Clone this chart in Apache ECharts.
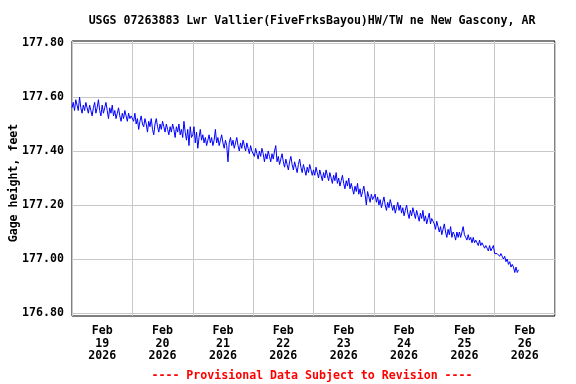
<!DOCTYPE html>
<html>
<head>
<meta charset="utf-8">
<script src="https://cdn.jsdelivr.net/npm/echarts@6/dist/echarts.min.js"></script>
<style>html,body{margin:0;padding:0;background:#fff}#c{width:576px;height:384px}</style>
</head>
<body>
<div id="c"></div>
<script>
// Day labels (each label sits in the middle of its day band)
var categories = ['Feb\n19\n2026','Feb\n20\n2026','Feb\n21\n2026','Feb\n22\n2026','Feb\n23\n2026','Feb\n24\n2026','Feb\n25\n2026','Feb\n26\n2026'];
var yTicks = [176.8, 177.0, 177.2, 177.4, 177.6, 177.8];
var stepHours = 0.5; // readings every 30 minutes starting Feb 19 00:00
// Gage height, feet, per day
var feb19 = [177.56,177.58,177.55,177.59,177.57,177.55,177.60,177.56,177.54,177.57,
177.55,177.58,177.56,177.54,177.57,177.55,177.53,177.56,177.58,177.54,
177.56,177.59,177.55,177.53,177.57,177.54,177.56,177.58,177.55,177.52,
177.56,177.54,177.57,177.53,177.55,177.52,177.54,177.56,177.53,177.51,
177.54,177.52,177.55,177.53,177.51,177.54,177.52,177.53];
var feb20 = [177.53,177.51,177.54,177.50,177.52,177.48,177.51,177.53,177.50,177.49,
177.52,177.50,177.47,177.51,177.49,177.52,177.48,177.46,177.50,177.52,
177.49,177.47,177.50,177.48,177.51,177.49,177.47,177.50,177.48,177.46,
177.49,177.47,177.50,177.48,177.45,177.49,177.47,177.50,177.46,177.48,
177.45,177.51,177.47,177.44,177.48,177.42,177.49,177.45];
var feb21 = [177.46,177.49,177.43,177.47,177.41,177.45,177.48,177.44,177.46,177.43,
177.45,177.42,177.44,177.46,177.43,177.45,177.42,177.44,177.48,177.43,
177.45,177.42,177.44,177.46,177.43,177.41,177.44,177.42,177.36,177.43,
177.45,177.42,177.44,177.41,177.43,177.45,177.42,177.40,177.43,177.41,
177.44,177.42,177.40,177.43,177.41,177.39,177.42,177.40];
var feb22 = [177.40,177.38,177.41,177.39,177.37,177.40,177.38,177.41,177.39,177.36,
177.39,177.37,177.40,177.38,177.36,177.39,177.37,177.40,177.42,177.36,
177.38,177.35,177.37,177.39,177.36,177.34,177.37,177.35,177.33,177.36,
177.38,177.35,177.33,177.36,177.34,177.32,177.35,177.37,177.34,177.32,
177.35,177.33,177.31,177.34,177.32,177.35,177.33,177.31];
var feb23 = [177.33,177.31,177.34,177.32,177.30,177.33,177.31,177.29,177.32,177.30,
177.33,177.31,177.29,177.32,177.30,177.28,177.31,177.29,177.32,177.28,
177.30,177.27,177.29,177.31,177.28,177.26,177.29,177.27,177.30,177.26,
177.28,177.26,177.24,177.27,177.25,177.28,177.24,177.26,177.23,177.25,
177.27,177.24,177.20,177.25,177.23,177.21,177.24,177.22];
var feb24 = [177.22,177.24,177.21,177.23,177.20,177.22,177.19,177.21,177.23,177.20,
177.18,177.21,177.19,177.22,177.20,177.18,177.20,177.17,177.19,177.21,
177.18,177.20,177.17,177.19,177.16,177.18,177.20,177.17,177.15,177.18,
177.16,177.19,177.17,177.15,177.18,177.16,177.14,177.17,177.15,177.18,
177.14,177.16,177.13,177.15,177.17,177.13,177.15,177.14];
var feb25 = [177.13,177.11,177.14,177.12,177.10,177.12,177.09,177.11,177.13,177.10,
177.08,177.11,177.09,177.12,177.08,177.10,177.09,177.07,177.10,177.08,
177.10,177.08,177.10,177.12,177.09,177.08,177.07,177.09,177.07,177.08,
177.06,177.08,177.06,177.07,177.06,177.05,177.07,177.05,177.06,177.05,
177.04,177.05,177.04,177.03,177.05,177.03,177.04,177.05];
var feb26 = [177.02,177.02,177.02,177.02,177.01,177.02,177.01,177.00,177.01,176.99,
177.00,176.98,176.99,176.97,176.98,176.97,176.95,176.97,176.95,176.96];

var allVals = [].concat(feb19, feb20, feb21, feb22, feb23, feb24, feb25, feb26);
var seriesData = allVals.map(function (v, i) { return [i * stepHours, v]; });

var FONT = 'DejaVu Sans Mono';
var chart = echarts.init(document.getElementById('c'), null, {renderer: 'canvas'});
chart.setOption({
  animation: false,
  backgroundColor: '#ffffff',
  title: [{
    text: 'USGS 07263883 Lwr Vallier(FiveFrksBayou)HW/TW ne New Gascony, AR',
    left: 307, top: 10, textAlign: 'center',
    textStyle: {fontFamily: FONT, fontWeight: 'bold', fontSize: 11.6, color: '#000'}
  }, {
    text: '---- Provisional Data Subject to Revision ----',
    left: 307, top: 365, textAlign: 'center',
    textStyle: {fontFamily: FONT, fontWeight: 'bold', fontSize: 11.6, color: '#ff0000'}
  }],
  grid: [
    {left: 72, right: 21, top: 41, bottom: 68, show: true, borderColor: '#000', borderWidth: 1,
     backgroundColor: 'transparent', outerBoundsMode: 'none', containLabel: false},
    {left: 72, right: 21, top: 43, bottom: 71, outerBoundsMode: 'none', containLabel: false}
  ],
  xAxis: [{
    gridIndex: 0, type: 'category', data: categories, boundaryGap: true,
    axisLine: {show: false}, axisTick: {show: false},
    splitLine: {show: true, lineStyle: {color: '#c8c8c8', width: 1}},
    axisLabel: {interval: 0, margin: 9, lineHeight: 12.5, fontFamily: FONT, fontWeight: 'bold', fontSize: 11.6, color: '#000'}
  }, {
    gridIndex: 1, type: 'value', min: 0, max: 192, show: false
  }],
  yAxis: [{
    gridIndex: 0, type: 'value', min: 0, max: 1, show: false
  }, {
    gridIndex: 1, type: 'value', min: yTicks[0], max: yTicks[yTicks.length - 1], interval: 0.2,
    axisLine: {show: false}, axisTick: {show: false},
    splitLine: {show: true, lineStyle: {color: '#c8c8c8', width: 1}},
    axisLabel: {margin: 8, fontFamily: FONT, fontWeight: 'bold', fontSize: 11.6, color: '#000',
      formatter: function (v) { return v.toFixed(2); }},
    name: 'Gage height, feet', nameLocation: 'middle', nameGap: 52, nameRotate: 90,
    nameMoveOverlap: false,
    nameTextStyle: {fontFamily: FONT, fontWeight: 'bold', fontSize: 11.6, color: '#000', padding: [0, 10, 0, 0]}
  }],
  series: [{
    type: 'line', xAxisIndex: 1, yAxisIndex: 1, data: seriesData,
    showSymbol: false, symbol: 'none',
    lineStyle: {color: '#0000ff', width: 1}, itemStyle: {color: '#0000ff'}
  }]
});
</script>
</body>
</html>
